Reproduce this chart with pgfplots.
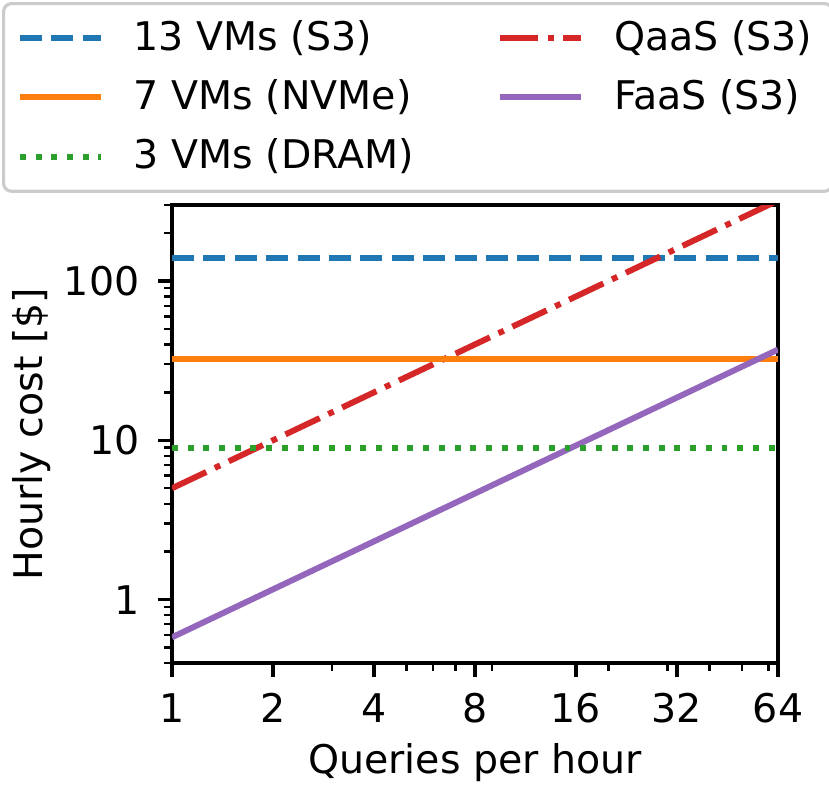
\documentclass[border=0pt]{standalone}
\usepackage{fontspec}
\setmainfont{DejaVu Sans}
\usepackage{pgfplots}
\pgfplotsset{compat=1.18}
\definecolor{tabblue}{HTML}{1F77B4}
\definecolor{taborange}{HTML}{FF7F0E}
\definecolor{tabgreen}{HTML}{2CA02C}
\definecolor{tabred}{HTML}{D62728}
\definecolor{tabpurple}{HTML}{9467BD}
\begin{document}
\fontsize{11.85}{14}\selectfont
\begin{tikzpicture}
\begin{axis}[
  scale only axis,
  width=181.8pt, height=137.4pt,
  xmode=log, ymode=log,
  xmin=1, xmax=64, ymin=0.4, ymax=300,
  xtick={1,2,4,8,16,32,64}, xticklabels={1,2,4,8,16,32,64},
  minor xtick={3,5,6,7,9,20,30,40,50,60},
  ytick={1,10,100}, yticklabels={1,10,100},
  minor ytick={0.4,0.5,0.6,0.7,0.8,0.9,2,3,4,5,6,7,8,9,20,30,40,50,60,70,80,90,200,300},
  /pgf/number format/assume math mode=true,
  tick align=outside, tick pos=left,
  major tick length=4.15pt, minor tick length=2.37pt,
  major tick style={line width=0.95pt, black},
  minor tick style={line width=0.71pt, black},
  axis line style={line width=0.95pt},
  xticklabel style={anchor=base, inner sep=0pt, yshift=-13.85pt},
  yticklabel style={anchor=east, inner sep=0pt, xshift=-5.45pt},
  every axis x label/.style={at={(axis description cs:0.5,-0.2402)}, anchor=base},
  every axis y label/.style={at={(axis description cs:-0.2145,0.5)}, rotate=90, anchor=base},
  xlabel={Queries per hour},
  ylabel={Hourly cost [\$]},
  legend columns=2,
  legend cell align=left,
  legend image code/.code={\draw[#1] (0pt,0pt) -- (24.3pt,0pt);},
  legend style={at={(axis description cs:-0.2805,1.4432)}, anchor=north west,
    draw=black!20, rounded corners=2.4pt, line width=0.95pt,
    inner xsep=4pt, inner ysep=3pt, row sep=3.0pt,
    nodes={inner sep=2pt},
    /tikz/every odd column/.append style={column sep=7pt},
    /tikz/every even column/.append style={column sep=23pt}},
  every axis plot/.append style={line width=1.78pt},
]
\addplot[tabblue, dash pattern=on 6.58pt off 2.84pt] coordinates {(1,140) (2,140) (4,140) (8,140) (16,140) (32,140) (64,140)};
\addlegendentry{13 VMs (S3)}
\addplot[tabred, dash pattern=on 11.38pt off 2.84pt on 1.78pt off 2.84pt] coordinates {(1,5) (2,10) (4,20) (8,40) (16,80) (32,160) (64,320)};
\addlegendentry{QaaS (S3)}
\addplot[taborange] coordinates {(1,32.3) (2,32.3) (4,32.3) (8,32.3) (16,32.3) (32,32.3) (64,32.3)};
\addlegendentry{7 VMs (NVMe)}
\addplot[tabpurple] coordinates {(1,0.58) (2,1.16) (4,2.32) (8,4.64) (16,9.28) (32,18.56) (64,37.12)};
\addlegendentry{FaaS (S3)}
\addplot[tabgreen, dash pattern=on 1.78pt off 2.93pt] coordinates {(1,9) (2,9) (4,9) (8,9) (16,9) (32,9) (64,9)};
\addlegendentry{3 VMs (DRAM)}
\end{axis}
\pgfresetboundingbox
\path ([shift={(-51.6pt,-36.9pt)}]current axis.south west) rectangle ([shift={(15.3pt,61.5pt)}]current axis.north east);
\end{tikzpicture}
\end{document}
